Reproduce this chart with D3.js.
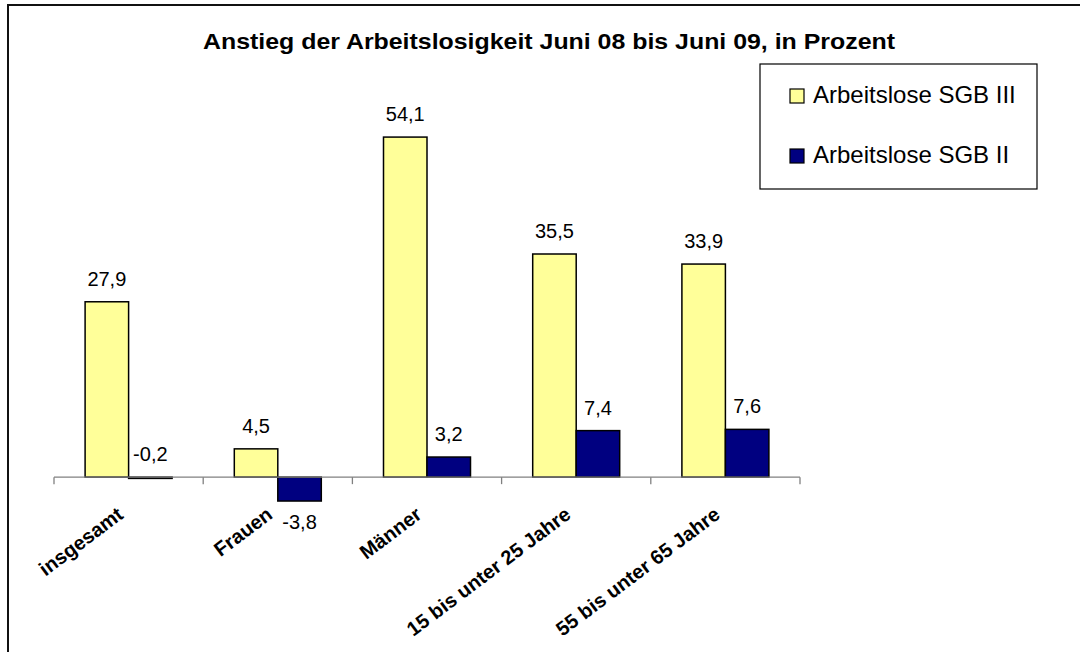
<!DOCTYPE html>
<html>
<head>
<meta charset="utf-8">
<script src="https://cdn.jsdelivr.net/npm/d3@7"></script>
<style>
  html, body { margin: 0; padding: 0; background: #fff; }
  svg { display: block; }
  text { font-family: Arial, "Liberation Sans", sans-serif; }
</style>
</head>
<body>
<svg id="chart" width="1080" height="652"></svg>
<script>
const titleText = "Anstieg der Arbeitslosigkeit Juni 08 bis Juni 09, in Prozent";
const categories = ["insgesamt", "Frauen", "Männer", "15 bis unter 25 Jahre", "55 bis unter 65 Jahre"];
const seriesNames = ["Arbeitslose SGB III", "Arbeitslose SGB II"];
const sgb3 = [27.9, 4.5, 54.1, 35.5, 33.9];
const sgb2 = [-0.2, -3.8, 3.2, 7.4, 7.6];
const seriesColors = ["#FFFF99", "#000080"];
const yDomain = [-10, 60];

const seriesValues = [sgb3, sgb2];
const data = categories.map((c, i) => ({
  cat: c,
  vals: seriesNames.map((s, j) => ({ series: s, value: seriesValues[j][i], color: seriesColors[j] }))
}));

const svg = d3.select("#chart");
const fmt = v => String(v.toFixed(1)).replace(".", ",");

// outer frame (cropped by the picture at right and bottom)
svg.append("rect")
  .attr("x", 8).attr("y", 5).attr("width", 1200).attr("height", 1000)
  .attr("fill", "none").attr("stroke", "#111").attr("stroke-width", 2);

// title
svg.append("text")
  .attr("x", 549).attr("y", 49)
  .attr("text-anchor", "middle")
  .attr("font-size", 22.5).attr("font-weight", "bold")
  .attr("textLength", 692).attr("lengthAdjust", "spacingAndGlyphs")
  .text(titleText);

const x0 = d3.scaleBand().domain(categories).range([54, 800]).paddingInner(0).paddingOuter(0);
const x1 = d3.scaleBand().domain(seriesNames).range([0, x0.bandwidth()]).paddingInner(0).paddingOuter(0.715);
const y = d3.scaleLinear().domain(yDomain).range([540, 100]);

// bars
const groups = svg.append("g").selectAll("g").data(data).join("g")
  .attr("transform", d => `translate(${x0(d.cat)},0)`);

groups.selectAll("rect").data(d => d.vals).join("rect")
  .attr("x", d => x1(d.series))
  .attr("width", x1.bandwidth())
  .attr("y", d => y(Math.max(0, d.value)))
  .attr("height", d => Math.abs(y(d.value) - y(0)))
  .attr("fill", d => d.color)
  .attr("stroke", "#000").attr("stroke-width", 1.5);

// value labels
groups.selectAll("text.val").data(d => d.vals).join("text")
  .attr("class", "val")
  .attr("x", d => x1(d.series) + x1.bandwidth() / 2)
  .attr("y", d => d.value < -1 ? y(d.value) + 28 : y(Math.max(0, d.value)) - 16)
  .attr("text-anchor", "middle")
  .attr("font-size", 20)
  .attr("fill", "#000")
  .text(d => fmt(d.value));

// x axis
const axis = svg.append("g").attr("transform", `translate(0,${y(0)})`);
axis.append("line")
  .attr("x1", x0.range()[0]).attr("x2", x0.range()[1])
  .attr("stroke", "#808080").attr("stroke-width", 1.3);
const tickPos = categories.map(c => x0(c)).concat([x0.range()[1]]);
axis.selectAll("line.tick").data(tickPos).join("line")
  .attr("class", "tick")
  .attr("x1", d => d).attr("x2", d => d)
  .attr("y1", 0).attr("y2", 7)
  .attr("stroke", "#808080").attr("stroke-width", 1.3);

// category labels
svg.append("g").selectAll("text").data(categories).join("text")
  .attr("transform", c => `translate(${x0(c) + x0.bandwidth() / 2 - 4},${y(0) + 40}) rotate(-37)`)
  .attr("text-anchor", "end")
  .attr("font-size", 20).attr("font-weight", "bold")
  .text(c => c);

// legend
const lg = svg.append("g");
lg.append("rect")
  .attr("x", 760).attr("y", 64).attr("width", 277).attr("height", 125)
  .attr("fill", "#fff").attr("stroke", "#000").attr("stroke-width", 1.2);
const li = lg.selectAll("g").data(seriesNames).join("g")
  .attr("transform", (d, i) => `translate(790,${89 + i * 60})`);
li.append("rect")
  .attr("width", 14).attr("height", 14)
  .attr("fill", (d, i) => seriesColors[i]).attr("stroke", "#000").attr("stroke-width", 1.2);
li.append("text")
  .attr("x", 23).attr("y", 14)
  .attr("font-size", 24)
  .text(d => d);
</script>
</body>
</html>
